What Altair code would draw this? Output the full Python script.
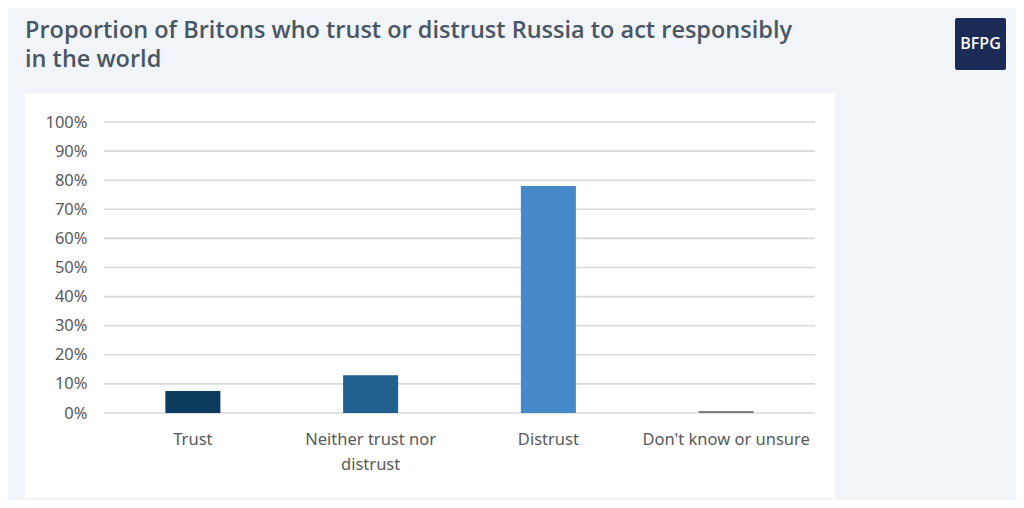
import altair as alt
import pandas as pd

categories = ["Trust", "Neither trust nor distrust", "Distrust", "Don't know or unsure"]
values = [7.6, 13, 78, 0.7]
bar_colors = ["#0d3b5e", "#22608f", "#4589c8", "#7f7f7f"]
tick_values = [0, 10, 20, 30, 40, 50, 60, 70, 80, 90, 100]

title_lines = ["Proportion of Britons who trust or distrust Russia to act responsibly", "in the world"]
logo_text = "BFPG"

df = pd.DataFrame({"category": categories, "value": values, "color": bar_colors})
grid_df = pd.DataFrame({"tick": tick_values})

W, H = 711, 291

x_enc = alt.X("category:N", sort=categories,
              scale=alt.Scale(paddingInner=0, paddingOuter=0),
              axis=alt.Axis(title=None, labelAngle=0, ticks=False, domain=False, grid=False,
                            labelPadding=18, labelFontSize=16.5, labelColor="#595959",
                            labelFont="Noto Sans", labelLineHeight=25, zindex=1,
                            labelExpr="datum.value == 'Neither trust nor distrust' ? ['Neither trust nor', 'distrust'] : datum.value"))
y_scale = alt.Scale(domain=[0, 100])
y_axis = alt.Axis(title=None, values=tick_values, grid=False, ticks=False, domain=False,
                  labelExpr="datum.value + '%'", labelPadding=17, labelFontSize=16.5,
                  labelColor="#595959", labelFont="Noto Sans", zindex=1,
                  labelOverlap=False, labelBound=False)

panel = alt.Chart(pd.DataFrame({"p": [0]})).mark_rect(color="white").encode(
    x=alt.value(-79), x2=alt.value(731), y=alt.value(-29), y2=alt.value(376)
)

grid = alt.Chart(grid_df).mark_rule(color="#d9d9d9", strokeWidth=1.6).encode(
    y=alt.Y("tick:Q", scale=y_scale, axis=y_axis), x=alt.value(0), x2=alt.value(W)
)

bars = alt.Chart(df).mark_bar(size=55).encode(
    x=x_enc,
    y=alt.Y("value:Q", scale=y_scale, axis=y_axis),
    color=alt.Color("color:N", scale=None),
)

logo_box = alt.Chart(pd.DataFrame({"p": [0]})).mark_rect(color="#1c2b55", cornerRadius=2).encode(
    x=alt.value(851), x2=alt.value(902), y=alt.value(-104), y2=alt.value(-52)
)
logo = alt.Chart(pd.DataFrame({"t": [logo_text]})).mark_text(
    color="white", fontSize=16, font="Open Sans", fontWeight=600
).encode(text="t:N", x=alt.value(876.5), y=alt.value(-78))

chart = alt.layer(panel, grid, bars, logo_box, logo).properties(
    width=W, height=H,
    title=alt.Title(title_lines, anchor="start", frame="group", dx=-79, offset=-53,
                    fontSize=23.5, font="Open Sans", fontWeight=600, color="#4a5663",
                    lineHeight=29),
    background="#f1f5f9",
    padding={"left": 96, "top": 114, "right": 201, "bottom": 87},
    autosize=alt.AutoSizeParams(type="none"),
).configure_view(stroke=None)

chart.save("out.html", embed_options={"renderer": "svg", "actions": False})
